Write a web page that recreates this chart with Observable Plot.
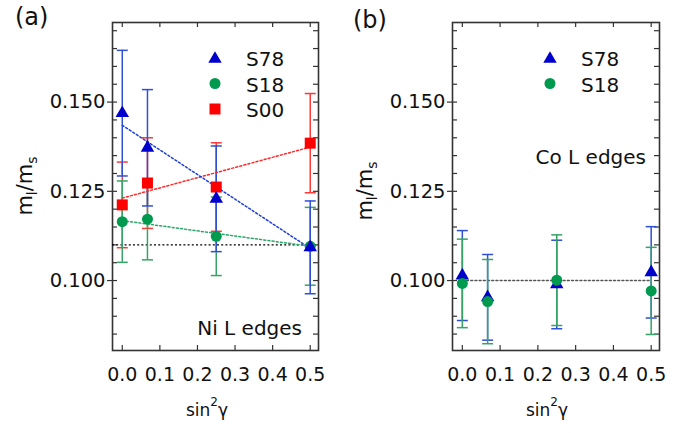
<!DOCTYPE html>
<html><head><meta charset="utf-8">
<script src="https://cdn.jsdelivr.net/npm/d3@7"></script>
<script src="https://cdn.jsdelivr.net/npm/@observablehq/plot@0.6"></script>
<style>
html,body{margin:0;padding:0;background:#fff;}
#wrap{position:relative;width:690px;height:433px;overflow:hidden;}
#wrap svg{position:absolute;top:0;}
</style></head><body><div id="wrap"></div>
<script>
// ---- data ----
const sin2g = [0, 0.067, 0.25, 0.5];
// (a) Ni L edges
const niS78 = [0.1469, 0.1372, 0.1229, 0.1093];
const niS78err = [0.0176, 0.0163, 0.0148, 0.0130];
const niS18 = [0.1165, 0.1172, 0.1124, 0.1096];
const niS18err = [0.0114, 0.0114, 0.0110, 0.0109];
const niS00 = [0.1212, 0.1273, 0.1262, 0.1385];
const niS00err = [0.0120, 0.0127, 0.0124, 0.0139];
const fitX = [0, 0.5];
const niFitS78 = [0.1435, 0.1090];
const niFitS18 = [0.1168, 0.1096];
const niFitS00 = [0.1231, 0.1374];
const niRef = [0.110];
// (b) Co L edges
const coS78 = [0.1014, 0.0953, 0.0989, 0.1023];
const coS78err = [0.0126, 0.0120, 0.0124, 0.0128];
const coS18 = [0.0992, 0.0941, 0.1001, 0.0971];
const coS18err = [0.0124, 0.0118, 0.0127, 0.0122];
const coRefX = [0, 0.5];
const coRefY = [0.100, 0.100];
// axes
const xTicks = [0, 0.1, 0.2, 0.3, 0.4, 0.5];
const yTicks = [0.100, 0.125, 0.150];
const yMinor = d3.range(17, 35).map(i => +(i * 0.005).toFixed(3));
const xDomain = [-0.026, 0.522];
const yDomain = [0.0804, 0.1723];

const FONT = "DejaVu Sans, Liberation Sans, sans-serif";
const BLUE = "#0000cc", BLUE_BAR = "#2f4fd6", BLUE_FIT = "#1f3fd8";
const GREEN = "#009a4e", GREEN_BAR = "#35a466", GREEN_FIT = "#2aa868";
const RED = "#ff0000", RED_BAR = "#ff3838", RED_FIT = "#ff2a2a";
const AX = "#333";
const DOT = "2,2.2";

const capSymbol = {draw(ctx, size) { const r = Math.sqrt(size / Math.PI); ctx.moveTo(-r, 0); ctx.lineTo(r, 0); }};

function rows(ys, errs) {
  return sin2g.map((x, i) => ({x, y: ys[i], lo: ys[i] - errs[i], hi: ys[i] + errs[i]}));
}
function pts(xs, ys) { return xs.map((x, i) => ({x, y: ys[i]})); }

function errMarks(data, color) {
  return [
    Plot.ruleX(data, {x: "x", y1: "lo", y2: "hi", stroke: color, strokeWidth: 1.5}),
    Plot.dot(data, {x: "x", y: "hi", symbol: capSymbol, r: 5.5, stroke: color, strokeWidth: 1.5, fill: "none"}),
    Plot.dot(data, {x: "x", y: "lo", symbol: capSymbol, r: 5.5, stroke: color, strokeWidth: 1.5, fill: "none"})
  ];
}

const H = 433, mL = 112, mT = 22, mB = 83;
function frameMarks(width, mR) {
  const pw = width - mL - mR, ph = H - mT - mB, t = 5;
  return [
    Plot.tickY(yMinor, {y: d => d, insetRight: pw - t, stroke: AX, strokeWidth: 1.2}),
    Plot.tickY(yMinor, {y: d => d, insetLeft: pw - t, stroke: AX, strokeWidth: 1.2}),
    Plot.tickX(xTicks, {x: d => d, insetBottom: ph - t, stroke: AX, strokeWidth: 1.2}),
    Plot.tickX(xTicks, {x: d => d, insetTop: ph - t, stroke: AX, strokeWidth: 1.2}),
    Plot.axisY({ticks: yTicks, tickSize: 5, tickPadding: 2, tickFormat: d3.format(".3f"), fontSize: 19.5, label: null, stroke: AX, strokeWidth: 1.2}),
    Plot.axisX({ticks: xTicks, tickSize: 0, tickPadding: 17, tickFormat: d3.format(".1f"), fontSize: 19, label: null}),
    Plot.frame({stroke: AX, strokeWidth: 1.6})
  ];
}

function decorate(svg, o) {
  const s = d3.select(svg).attr("font-family", FONT);
  s.append("text").attr("x", o.tagX).attr("y", o.tagY).attr("text-anchor", "start")
    .attr("font-size", 24).attr("fill", "#111").text(o.tag);
  // y label m_l/m_s
  const yl = s.append("text").attr("transform", `translate(${o.ylX},${o.ylY}) rotate(-90)`)
    .attr("text-anchor", "middle").attr("font-size", 21).attr("fill", "#111");
  yl.append("tspan").text("m");
  yl.append("tspan").attr("font-size", 14).attr("dy", 5).text("l");
  yl.append("tspan").attr("dy", -5).text("/m");
  yl.append("tspan").attr("font-size", 14).attr("dy", 5).text("s");
  // x label sin^2 gamma
  const xl = s.append("text").attr("x", o.xlX).attr("y", 416).attr("text-anchor", "middle")
    .attr("font-size", 17).attr("fill", "#111");
  xl.append("tspan").text("sin");
  xl.append("tspan").attr("font-size", 12).attr("dy", -10).text("2");
  xl.append("tspan").attr("dx", 0).attr("dy", 10).text("γ");
  // legend
  o.legend.forEach((e, i) => {
    const cy = 58 + i * 25.5;
    s.append("path").attr("d", d3.symbol(e.sym, e.size)()).attr("fill", e.color)
      .attr("transform", `translate(${o.legX},${cy + (e.sym === d3.symbolTriangle ? 1 : 0)})`);
    s.append("text").attr("x", o.legX + 31).attr("y", cy + 8).attr("text-anchor", "start")
      .attr("font-size", 20).attr("fill", "#111").text(e.name);
  });
  s.append("text").attr("x", o.annX).attr("y", o.annY).attr("text-anchor", "end")
    .attr("font-size", 20).attr("fill", "#111").text(o.ann);
}

const wrap = document.getElementById("wrap");
const baseStyle = {fontFamily: FONT, fontSize: "19px", background: "transparent", overflow: "visible", color: "#111"};

// ---- panel (a) ----
const wA = 340, mRA = 22;
const a78 = rows(niS78, niS78err), a18 = rows(niS18, niS18err), a00 = rows(niS00, niS00err);
const svgA = Plot.plot({
  width: wA, height: H, marginLeft: mL, marginRight: mRA, marginTop: mT, marginBottom: mB,
  style: baseStyle,
  x: {domain: xDomain}, y: {domain: yDomain},
  marks: [
    ...frameMarks(wA, mRA),
    Plot.ruleY(niRef, {stroke: "#000", strokeWidth: 1.4, strokeDasharray: DOT}),
    ...errMarks(a00, RED_BAR),
    ...errMarks(a18, GREEN_BAR),
    ...errMarks(a78, BLUE_BAR),
    Plot.line(pts(fitX, niFitS00), {x: "x", y: "y", stroke: RED_FIT, strokeWidth: 1.5, strokeDasharray: DOT}),
    Plot.line(pts(fitX, niFitS18), {x: "x", y: "y", stroke: GREEN_FIT, strokeWidth: 1.5, strokeDasharray: DOT}),
    Plot.line(pts(fitX, niFitS78), {x: "x", y: "y", stroke: BLUE_FIT, strokeWidth: 1.5, strokeDasharray: DOT}),
    Plot.dot(a00, {x: "x", y: "y", symbol: "square", r: 6.2, fill: RED, stroke: "none"}),
    Plot.dot(a18, {x: "x", y: "y", symbol: "circle", r: 5.5, fill: GREEN, stroke: "none"}),
    Plot.dot(a78, {x: "x", y: "y", symbol: "triangle", r: 5, fill: BLUE, stroke: "none"})
  ]
});
svgA.style.left = "0px";
wrap.appendChild(svgA);
decorate(svgA, {
  tag: "(a)", tagX: 15, tagY: 25, ylX: 32, ylY: 186, xlX: 207,
  legX: 215, legend: [
    {name: "S78", sym: d3.symbolTriangle, size: 78, color: BLUE},
    {name: "S18", sym: d3.symbolCircle, size: 95, color: GREEN},
    {name: "S00", sym: d3.symbolSquare, size: 121, color: RED}
  ],
  ann: "Ni L edges", annX: 302, annY: 335
});

// ---- panel (b) ----
const wB = 350, mRB = 31;
const b78 = rows(coS78, coS78err), b18 = rows(coS18, coS18err);
const svgB = Plot.plot({
  width: wB, height: H, marginLeft: mL, marginRight: mRB, marginTop: mT, marginBottom: mB,
  style: baseStyle,
  x: {domain: xDomain}, y: {domain: yDomain},
  marks: [
    ...frameMarks(wB, mRB),
    Plot.line(pts(coRefX, coRefY), {x: "x", y: "y", stroke: "#555", strokeWidth: 1.4, strokeDasharray: DOT}),
    ...errMarks(b78, BLUE_BAR),
    ...errMarks(b18, GREEN_BAR),
    Plot.dot(b78, {x: "x", y: "y", symbol: "triangle", r: 5, fill: BLUE, stroke: "none"}),
    Plot.dot(b18, {x: "x", y: "y", symbol: "circle", r: 5.5, fill: GREEN, stroke: "none"})
  ]
});
svgB.style.left = "340px";
wrap.appendChild(svgB);
decorate(svgB, {
  tag: "(b)", tagX: 13, tagY: 28, ylX: 31.5, ylY: 191, xlX: 207,
  legX: 210, legend: [
    {name: "S78", sym: d3.symbolTriangle, size: 78, color: BLUE},
    {name: "S18", sym: d3.symbolCircle, size: 95, color: GREEN}
  ],
  ann: "Co L edges", annX: 306, annY: 164
});
</script></body></html>
